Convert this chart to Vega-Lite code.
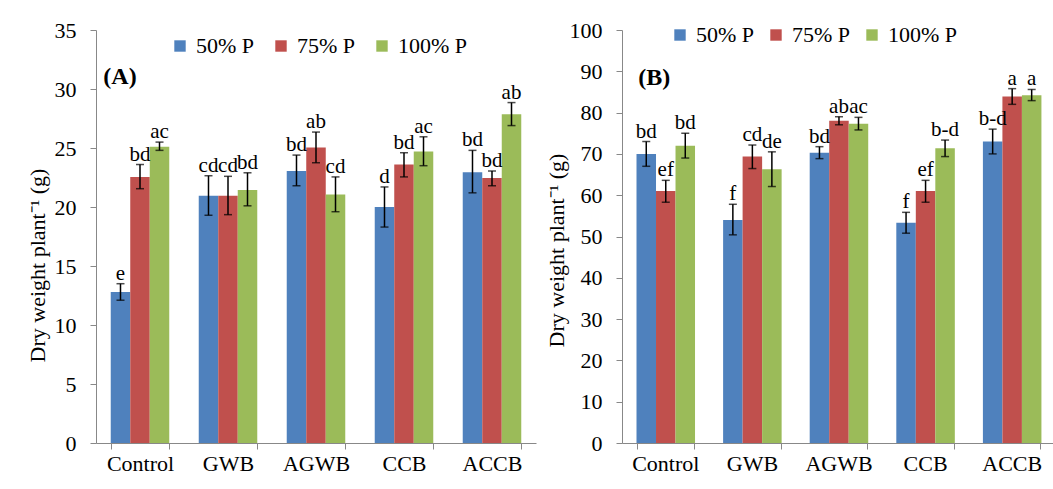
{
  "$schema": "https://vega.github.io/schema/vega-lite/v6.json",
  "padding": {"left": 26, "top": 19, "right": 0, "bottom": 0},
  "background": "white",
  "spacing": 9,
  "resolve": {"scale": {"color": "independent"}, "legend": {"color": "independent"}},
  "datasets": {
    "A": [
      {"trt": "Control", "P": "50% P", "mean": 12.8, "lo": 12.1, "hi": 13.5, "label": "e"},
      {"trt": "Control", "P": "75% P", "mean": 22.55, "lo": 21.55, "hi": 23.6, "label": "bd"},
      {"trt": "Control", "P": "100% P", "mean": 25.1, "lo": 24.8, "hi": 25.5, "label": "ac"},
      {"trt": "GWB", "P": "50% P", "mean": 20.95, "lo": 19.3, "hi": 22.65, "label": "cd"},
      {"trt": "GWB", "P": "75% P", "mean": 20.95, "lo": 19.35, "hi": 22.6, "label": "cd"},
      {"trt": "GWB", "P": "100% P", "mean": 21.45, "lo": 20.1, "hi": 22.9, "label": "bd"},
      {"trt": "AGWB", "P": "50% P", "mean": 23.05, "lo": 21.8, "hi": 24.4, "label": "bd"},
      {"trt": "AGWB", "P": "75% P", "mean": 25.05, "lo": 23.75, "hi": 26.35, "label": "ab"},
      {"trt": "AGWB", "P": "100% P", "mean": 21.05, "lo": 19.6, "hi": 22.55, "label": "cd"},
      {"trt": "CCB", "P": "50% P", "mean": 20.0, "lo": 18.3, "hi": 21.7, "label": "d"},
      {"trt": "CCB", "P": "75% P", "mean": 23.6, "lo": 22.55, "hi": 24.6, "label": "bd"},
      {"trt": "CCB", "P": "100% P", "mean": 24.7, "lo": 23.5, "hi": 25.95, "label": "ac"},
      {"trt": "ACCB", "P": "50% P", "mean": 22.95, "lo": 21.2, "hi": 24.8, "label": "bd"},
      {"trt": "ACCB", "P": "75% P", "mean": 22.45, "lo": 21.8, "hi": 23.05, "label": "bd"},
      {"trt": "ACCB", "P": "100% P", "mean": 27.85, "lo": 26.9, "hi": 28.85, "label": "ab"}
    ],
    "B": [
      {"trt": "Control", "P": "50% P", "mean": 70.0, "lo": 67.0, "hi": 73.0, "label": "bd"},
      {"trt": "Control", "P": "75% P", "mean": 61.0, "lo": 58.3, "hi": 63.6, "label": "ef"},
      {"trt": "Control", "P": "100% P", "mean": 72.0, "lo": 69.0, "hi": 75.0, "label": "bd"},
      {"trt": "GWB", "P": "50% P", "mean": 54.0, "lo": 50.4, "hi": 57.8, "label": "f"},
      {"trt": "GWB", "P": "75% P", "mean": 69.35, "lo": 66.45, "hi": 72.15, "label": "cd"},
      {"trt": "GWB", "P": "100% P", "mean": 66.3, "lo": 62.1, "hi": 70.5, "label": "de"},
      {"trt": "AGWB", "P": "50% P", "mean": 70.3, "lo": 68.85, "hi": 71.75, "label": "bd"},
      {"trt": "AGWB", "P": "75% P", "mean": 78.0, "lo": 77.05, "hi": 79.0, "label": "ab"},
      {"trt": "AGWB", "P": "100% P", "mean": 77.3, "lo": 75.8, "hi": 78.85, "label": "ac"},
      {"trt": "CCB", "P": "50% P", "mean": 53.3, "lo": 50.8, "hi": 55.85, "label": "f"},
      {"trt": "CCB", "P": "75% P", "mean": 61.0, "lo": 58.3, "hi": 63.6, "label": "ef"},
      {"trt": "CCB", "P": "100% P", "mean": 71.35, "lo": 69.35, "hi": 73.35, "label": "b-d"},
      {"trt": "ACCB", "P": "50% P", "mean": 73.0, "lo": 70.0, "hi": 76.0, "label": "b-d"},
      {"trt": "ACCB", "P": "75% P", "mean": 83.9, "lo": 82.0, "hi": 85.8, "label": "a"},
      {"trt": "ACCB", "P": "100% P", "mean": 84.2, "lo": 82.9, "hi": 85.6, "label": "a"}
    ],
    "tagA": [{"tag": "(A)"}],
    "tagB": [{"tag": "(B)"}]
  },
  "config": {
    "view": {"stroke": null},
    "font": "Times New Roman, Liberation Serif, serif",
    "text": {"font": "Times New Roman, Liberation Serif, serif"},
    "axis": {
      "labelFont": "Times New Roman, Liberation Serif, serif",
      "labelFontSize": 22,
      "labelColor": "black",
      "titleFont": "Times New Roman, Liberation Serif, serif",
      "titleFontSize": 22,
      "titleFontWeight": "normal",
      "titleColor": "black",
      "domainColor": "#888888",
      "tickColor": "#888888",
      "grid": false,
      "tickSize": 6
    },
    "legend": {
      "labelFont": "Times New Roman, Liberation Serif, serif",
      "labelFontSize": 22,
      "labelColor": "black"
    }
  },
  "hconcat": [
    {
      "width": 440,
      "height": 413,
      "layer": [
        {
          "data": {"name": "A"},
          "mark": {"type": "bar"},
          "encoding": {
            "x": {"field": "trt", "type": "nominal", "sort": ["Control", "GWB", "AGWB", "CCB", "ACCB"],
                  "scale": {"paddingInner": 0.335, "paddingOuter": 0.1675},
                  "axis": {"title": null, "labelAngle": 0, "tickBand": "extent", "labelPadding": 4}},
            "xOffset": {"field": "P", "type": "nominal", "scale": {"domain": ["50% P", "75% P", "100% P"], "paddingInner": 0, "paddingOuter": 0}},
            "y": {"field": "mean", "type": "quantitative", "scale": {"domain": [0, 35]},
                  "axis": {"title": "Dry weight plant⁻¹ (g)", "values": [0, 5, 10, 15, 20, 25, 30, 35], "labelPadding": 14, "titlePadding": 5, "titleY": 235}},
            "color": {"field": "P", "type": "nominal",
                      "scale": {"domain": ["50% P", "75% P", "100% P"], "range": ["#4F81BD", "#C0504D", "#9BBB59"]},
                      "legend": {"title": null, "orient": "none", "legendX": 73, "legendY": 5, "direction": "horizontal",
                                 "symbolType": "square", "symbolSize": 130, "symbolStrokeWidth": 0, "columnPadding": 15, "labelOffset": 5}}
          }
        },
        {
          "data": {"name": "A"},
          "mark": {"type": "rule", "color": "black", "strokeWidth": 1.5},
          "encoding": {
            "x": {"field": "trt", "type": "nominal", "sort": ["Control", "GWB", "AGWB", "CCB", "ACCB"]},
            "xOffset": {"field": "P", "type": "nominal"},
            "y": {"field": "lo", "type": "quantitative"},
            "y2": {"field": "hi"}
          }
        },
        {
          "data": {"name": "A"},
          "mark": {"type": "tick", "color": "black", "size": 8, "thickness": 1.5},
          "encoding": {
            "x": {"field": "trt", "type": "nominal", "sort": ["Control", "GWB", "AGWB", "CCB", "ACCB"]},
            "xOffset": {"field": "P", "type": "nominal"},
            "y": {"field": "lo", "type": "quantitative"}
          }
        },
        {
          "data": {"name": "A"},
          "mark": {"type": "tick", "color": "black", "size": 8, "thickness": 1.5},
          "encoding": {
            "x": {"field": "trt", "type": "nominal", "sort": ["Control", "GWB", "AGWB", "CCB", "ACCB"]},
            "xOffset": {"field": "P", "type": "nominal"},
            "y": {"field": "hi", "type": "quantitative"}
          }
        },
        {
          "data": {"name": "A"},
          "mark": {"type": "text", "fontSize": 21, "font": "Times New Roman, Liberation Serif, serif", "color": "black", "baseline": "alphabetic", "dy": -4},
          "encoding": {
            "x": {"field": "trt", "type": "nominal", "sort": ["Control", "GWB", "AGWB", "CCB", "ACCB"]},
            "xOffset": {"field": "P", "type": "nominal"},
            "y": {"field": "hi", "type": "quantitative"},
            "text": {"field": "label"}
          }
        },
        {
          "data": {"name": "tagA"},
          "mark": {"type": "text", "fontSize": 24, "fontWeight": "bold", "font": "Times New Roman, Liberation Serif, serif", "color": "black", "baseline": "middle", "align": "center", "dx": -20},
          "encoding": {
            "x": {"datum": "Control", "type": "nominal"},
            "y": {"datum": 31, "type": "quantitative"},
            "text": {"field": "tag"}
          }
        }
      ]
    },
    {
      "width": 433,
      "height": 413,
      "layer": [
        {
          "data": {"name": "B"},
          "mark": {"type": "bar"},
          "encoding": {
            "x": {"field": "trt", "type": "nominal", "sort": ["Control", "GWB", "AGWB", "CCB", "ACCB"],
                  "scale": {"paddingInner": 0.335, "paddingOuter": 0.1675},
                  "axis": {"title": null, "labelAngle": 0, "tickBand": "extent", "labelPadding": 4}},
            "xOffset": {"field": "P", "type": "nominal", "scale": {"domain": ["50% P", "75% P", "100% P"], "paddingInner": 0, "paddingOuter": 0}},
            "y": {"field": "mean", "type": "quantitative", "scale": {"domain": [0, 100]},
                  "axis": {"title": "Dry weight plant⁻¹ (g)", "values": [0, 10, 20, 30, 40, 50, 60, 70, 80, 90, 100], "labelPadding": 14, "titlePadding": 1, "titleY": 220}},
            "color": {"field": "P", "type": "nominal",
                      "scale": {"domain": ["50% P", "75% P", "100% P"], "range": ["#4F81BD", "#C0504D", "#9BBB59"]},
                      "legend": {"title": null, "orient": "none", "legendX": 47, "legendY": -6, "direction": "horizontal",
                                 "symbolType": "square", "symbolSize": 130, "symbolStrokeWidth": 0, "columnPadding": 10, "labelOffset": 5}}
          }
        },
        {
          "data": {"name": "B"},
          "mark": {"type": "rule", "color": "black", "strokeWidth": 1.5},
          "encoding": {
            "x": {"field": "trt", "type": "nominal", "sort": ["Control", "GWB", "AGWB", "CCB", "ACCB"]},
            "xOffset": {"field": "P", "type": "nominal"},
            "y": {"field": "lo", "type": "quantitative"},
            "y2": {"field": "hi"}
          }
        },
        {
          "data": {"name": "B"},
          "mark": {"type": "tick", "color": "black", "size": 8, "thickness": 1.5},
          "encoding": {
            "x": {"field": "trt", "type": "nominal", "sort": ["Control", "GWB", "AGWB", "CCB", "ACCB"]},
            "xOffset": {"field": "P", "type": "nominal"},
            "y": {"field": "lo", "type": "quantitative"}
          }
        },
        {
          "data": {"name": "B"},
          "mark": {"type": "tick", "color": "black", "size": 8, "thickness": 1.5},
          "encoding": {
            "x": {"field": "trt", "type": "nominal", "sort": ["Control", "GWB", "AGWB", "CCB", "ACCB"]},
            "xOffset": {"field": "P", "type": "nominal"},
            "y": {"field": "hi", "type": "quantitative"}
          }
        },
        {
          "data": {"name": "B"},
          "mark": {"type": "text", "fontSize": 21, "font": "Times New Roman, Liberation Serif, serif", "color": "black", "baseline": "alphabetic", "dy": -4},
          "encoding": {
            "x": {"field": "trt", "type": "nominal", "sort": ["Control", "GWB", "AGWB", "CCB", "ACCB"]},
            "xOffset": {"field": "P", "type": "nominal"},
            "y": {"field": "hi", "type": "quantitative"},
            "text": {"field": "label"}
          }
        },
        {
          "data": {"name": "tagB"},
          "mark": {"type": "text", "fontSize": 24, "fontWeight": "bold", "font": "Times New Roman, Liberation Serif, serif", "color": "black", "baseline": "middle", "align": "center", "dx": -11},
          "encoding": {
            "x": {"datum": "Control", "type": "nominal"},
            "y": {"datum": 88.3, "type": "quantitative"},
            "text": {"field": "tag"}
          }
        }
      ]
    }
  ]
}
